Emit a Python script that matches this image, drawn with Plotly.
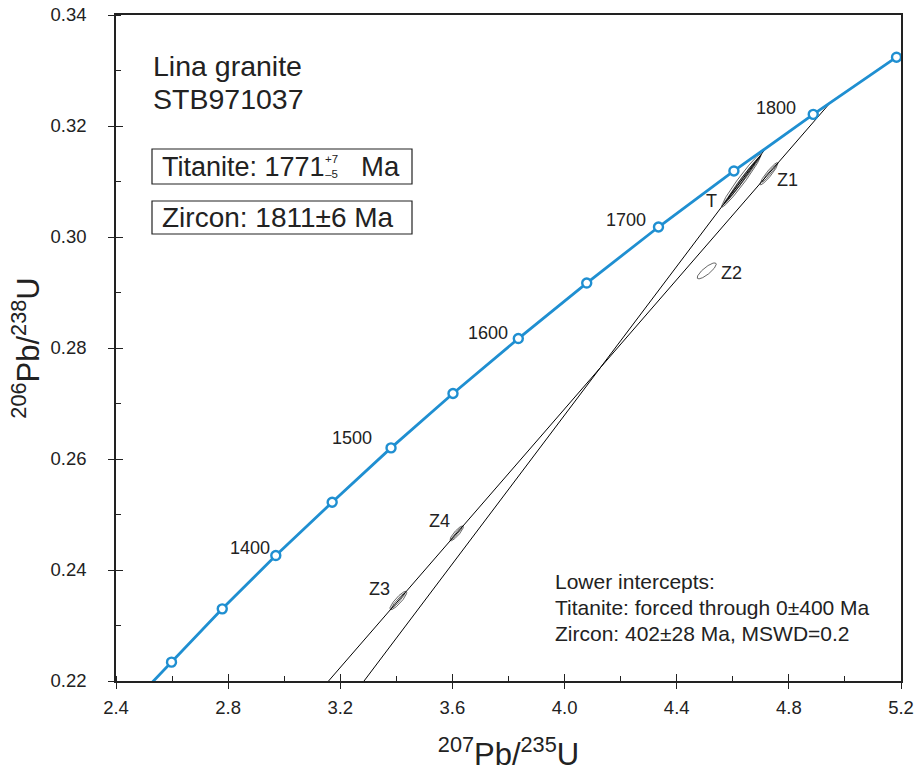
import numpy as np
import plotly.graph_objects as go

# ---------------- data ----------------
# Concordia curve points (207Pb/235U, 206Pb/238U), 50 Ma steps
conc_age = [1280, 1300, 1350, 1400, 1450, 1500, 1550, 1600, 1650, 1700, 1750, 1800, 1850]
conc_x = [2.528, 2.598, 2.779, 2.970, 3.171, 3.381, 3.602, 3.835, 4.079, 4.335, 4.604, 4.887, 5.184]
conc_y = [0.2197, 0.2234, 0.2330, 0.2426, 0.2522, 0.2620, 0.2718, 0.2817, 0.2917, 0.3018, 0.3119, 0.3221, 0.3324]

# age labels on the concordia (text, label position)
age_labels = ["1400", "1500", "1600", "1700", "1800"]
age_label_x = [2.878, 3.242, 3.727, 4.219, 4.754]
age_label_y = [0.2440, 0.2638, 0.2827, 0.3031, 0.3232]

# Discordia lines (upper intercept -> lower intercept)
tit_line_x = [4.721, 0.0]
tit_line_y = [0.3162, 0.0]
zir_line_x = [4.951, 0.486]
zir_line_y = [0.3244, 0.0644]

# Error ellipses: centre, half-extent in x / y, correlation
ell_cx = [4.631, 4.640, 4.624, 4.634, 4.729, 4.731, 4.507, 3.407, 3.407, 3.615, 3.615]
ell_cy = [0.3102, 0.3107, 0.3097, 0.3103, 0.3114, 0.3115, 0.2939, 0.2345, 0.2345, 0.2466, 0.2466]
ell_sx = [0.071, 0.058, 0.056, 0.064, 0.032, 0.026, 0.034, 0.030, 0.024, 0.024, 0.019]
ell_sy = [0.0048, 0.0039, 0.0038, 0.0043, 0.0020, 0.0016, 0.00144, 0.00166, 0.00135, 0.00135, 0.0011]
ell_rho = [0.975, 0.992, 0.992, 0.998, 0.93, 0.975, 0.836, 0.88, 0.96, 0.875, 0.96]

# Ellipse labels
ell_labels = ["T", "Z1", "Z2", "Z3", "Z4"]
ell_label_x = [4.5245, 4.7966, 4.5958, 3.339, 3.553]
ell_label_y = [0.30649, 0.31027, 0.29346, 0.23652, 0.24888]

x_range = [2.4, 5.2]
y_range = [0.22, 0.34]

# ---------------- figure ----------------
BLUE = "#1f8fd1"
INK = "#222222"
FONT = "Liberation Sans, Arial, Helvetica, sans-serif"

W, H = 921, 772
ML, MR, MT, MB = 116, 20, 15, 91
PW, PH = W - ML - MR, H - MT - MB


def px(x):
    return (x - ML) / PW


def py(y):
    return (H - MB - y) / PH


fig = go.Figure()

# discordia lines
fig.add_trace(go.Scatter(x=tit_line_x, y=tit_line_y, mode="lines",
                         line=dict(color="black", width=1), hoverinfo="skip", showlegend=False))
fig.add_trace(go.Scatter(x=zir_line_x, y=zir_line_y, mode="lines",
                         line=dict(color="black", width=1), hoverinfo="skip", showlegend=False))

# ellipses
t = np.linspace(0, 2 * np.pi, 160)
for cx, cy, sx, sy, r in zip(ell_cx, ell_cy, ell_sx, ell_sy, ell_rho):
    ex = cx + sx * np.cos(t)
    ey = cy + sy * (r * np.cos(t) + np.sqrt(1 - r * r) * np.sin(t))
    fig.add_trace(go.Scatter(x=ex, y=ey, mode="lines", line=dict(color="black", width=0.6),
                             hoverinfo="skip", showlegend=False))

# concordia line
fig.add_trace(go.Scatter(x=conc_x, y=conc_y, mode="lines",
                         line=dict(color=BLUE, width=2.8), hoverinfo="skip", showlegend=False))
# concordia age markers
fig.add_trace(go.Scatter(x=conc_x[1:], y=conc_y[1:], mode="markers",
                         marker=dict(symbol="circle", size=9, color="white",
                                     line=dict(color=BLUE, width=2.4)),
                         text=[str(a) for a in conc_age[1:]], hoverinfo="text", showlegend=False))

# dummy trace for the overlay axes (inner half of crossing major ticks)
fig.add_trace(go.Scatter(x=[None], y=[None], xaxis="x2", yaxis="y2",
                         hoverinfo="skip", showlegend=False))

annotations = []
for txt, lx, ly in zip(age_labels, age_label_x, age_label_y):
    annotations.append(dict(x=lx, y=ly, xref="x", yref="y", text=txt, showarrow=False,
                            font=dict(size=18, color=INK, family=FONT)))
for txt, lx, ly in zip(ell_labels, ell_label_x, ell_label_y):
    annotations.append(dict(x=lx, y=ly, xref="x", yref="y", text=txt, showarrow=False,
                            font=dict(size=18, color=INK, family=FONT)))

# title block
annotations.append(dict(x=px(151), y=py(66), xref="paper", yref="paper", text="Lina granite",
                        showarrow=False, xanchor="left", yanchor="middle",
                        font=dict(size=28.5, color=INK, family=FONT)))
annotations.append(dict(x=px(151), y=py(99), xref="paper", yref="paper", text="STB971037",
                        showarrow=False, xanchor="left", yanchor="middle",
                        font=dict(size=28.5, color=INK, family=FONT)))

# boxed ages
annotations.append(dict(x=px(160), y=py(167), xref="paper", yref="paper", text="Titanite: 1771",
                        showarrow=False, xanchor="left", yanchor="middle",
                        font=dict(size=27, color=INK, family=FONT)))
annotations.append(dict(x=px(331), y=py(167), xref="paper", yref="paper", text="+7<br>\u20135",
                        showarrow=False, xanchor="center", yanchor="middle",
                        font=dict(size=11.5, color=INK, family=FONT)))
annotations.append(dict(x=px(359), y=py(167), xref="paper", yref="paper", text="Ma",
                        showarrow=False, xanchor="left", yanchor="middle",
                        font=dict(size=27.5, color=INK, family=FONT)))
annotations.append(dict(x=px(160), y=py(218), xref="paper", yref="paper", text="Zircon: 1811\u00b16 Ma",
                        showarrow=False, xanchor="left", yanchor="middle",
                        font=dict(size=28, color=INK, family=FONT)))

# lower intercept text
low_lines = ["Lower intercepts:", "Titanite: forced through 0\u00b1400 Ma", "Zircon: 402\u00b128 Ma, MSWD=0.2"]
for i, txt in enumerate(low_lines):
    annotations.append(dict(x=px(553), y=py(581 + 26 * i), xref="paper", yref="paper", text=txt,
                            showarrow=False, xanchor="left", yanchor="middle", align="left",
                            font=dict(size=21, color=INK, family=FONT)))

shapes = [
    dict(type="rect", xref="paper", yref="paper", x0=px(152), x1=px(412), y0=py(184), y1=py(149),
         line=dict(color=INK, width=1.2), fillcolor="rgba(0,0,0,0)"),
    dict(type="rect", xref="paper", yref="paper", x0=px(152), x1=px(412), y0=py(234), y1=py(201),
         line=dict(color=INK, width=1.2), fillcolor="rgba(0,0,0,0)"),
]

axis_common = dict(showgrid=False, zeroline=False, showline=True, linecolor=INK, linewidth=1.5,
                   mirror=True, ticks="outside", ticklen=6, tickwidth=1.4, tickcolor=INK,
                   automargin=False,
                   tickfont=dict(size=18.5, color=INK, family=FONT))

fig.update_layout(
    template="none",
    width=W, height=H,
    margin=dict(l=ML, r=MR, t=MT, b=MB, autoexpand=False),
    paper_bgcolor="white", plot_bgcolor="white",
    showlegend=False,
    xaxis=dict(range=x_range, tick0=2.4, dtick=0.4, tickformat=".1f",
               minor=dict(dtick=0.2, ticks="inside", ticklen=5, tickwidth=1.2, tickcolor=INK, showgrid=False),
               ticklabelstandoff=3,
               title=dict(text="<sup>207</sup>Pb/<sup>235</sup>U", font=dict(size=31, color=INK, family=FONT),
                          standoff=27),
               **axis_common),
    yaxis=dict(range=y_range, tick0=0.22, dtick=0.02, tickformat=".2f",
               minor=dict(dtick=0.01, ticks="inside", ticklen=5, tickwidth=1.2, tickcolor=INK, showgrid=False),
               ticklabelstandoff=18,
               title=dict(text="<sup>206</sup>Pb/<sup>238</sup>U", font=dict(size=31, color=INK, family=FONT),
                          standoff=2),
               **axis_common),
    xaxis2=dict(range=x_range, overlaying="x", anchor="y2", tick0=2.4, dtick=0.4, automargin=False,
                ticks="inside", ticklen=7, tickwidth=1.4, tickcolor=INK, showticklabels=False,
                showgrid=False, zeroline=False, showline=False),
    yaxis2=dict(range=y_range, overlaying="y", anchor="x2", side="left", tick0=0.22, dtick=0.02,
                automargin=False,
                ticks="inside", ticklen=7, tickwidth=1.4, tickcolor=INK, showticklabels=False,
                showgrid=False, zeroline=False, showline=False),
    annotations=annotations,
    shapes=shapes,
)

fig.write_html("out.html")
